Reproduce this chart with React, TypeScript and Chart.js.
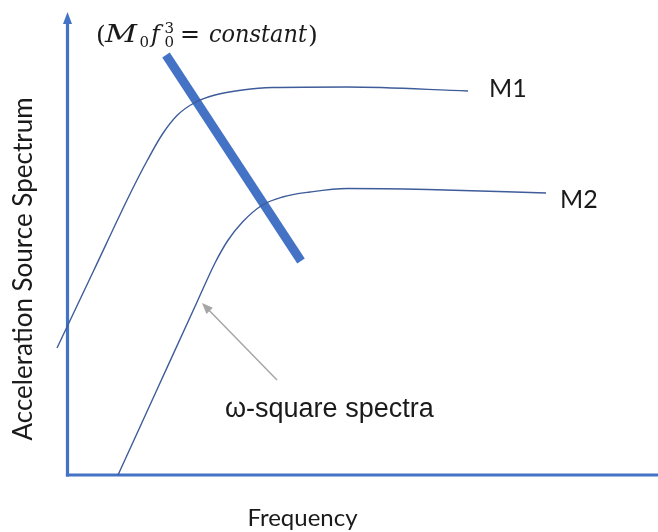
import React, { useEffect, useRef } from "react";
import { Chart, registerables } from "chart.js";

Chart.register(...registerables);

const WIDTH = 658;
const HEIGHT = 532;

// Schematic axis domain (log frequency vs. log acceleration amplitude, arbitrary units)
const X_MIN = -1.35;
const X_MAX = 11.81;
const Y_MIN = -1.14;
const Y_MAX = 9.5;
const Y_AXIS_TOP = 9.26;

// Source spectrum for the larger event (M1)
const m1Freq = [-0.21, 0.52, 1.25, 1.6, 1.9, 2.2, 2.55, 2.95, 3.5, 4.1, 5.6, 8.01];
const m1Amp = [2.54, 4.08, 5.62, 6.3, 6.82, 7.2, 7.45, 7.6, 7.7, 7.75, 7.76, 7.68];

// Source spectrum for the smaller event (M2)
const m2Freq = [1.01, 1.8, 2.6, 2.95, 3.2, 3.5, 3.9, 4.3, 4.85, 5.6, 7.2, 9.57];
const m2Amp = [0.0, 1.73, 3.48, 4.24, 4.68, 5.06, 5.4, 5.56, 5.66, 5.73, 5.71, 5.64];

// Corner-frequency trend line (M0 f0^3 = constant)
const cornerFreq = [1.97, 4.67];
const cornerAmp = [8.4, 4.28];

// Pointer from the annotation text to the M2 spectrum
const pointerFrom = { x: 4.19, y: 1.9 };
const pointerTo = { x: 2.69, y: 3.44 };

const AXIS_COLOR = "#4472C4";
const CURVE_COLOR = "#3E5C9A";
const SANS = "Lato, 'Open Sans', sans-serif";
const SERIF = "'DejaVu Serif', 'Liberation Serif', serif";

const toPoints = (xs: number[], ys: number[]) => xs.map((x, i) => ({ x, y: ys[i] }));

const decorations = {
  id: "decorations",
  beforeDatasetsDraw(chart: any) {
    const { ctx, scales } = chart;
    const xs = scales.x;
    const ys = scales.y;
    const x0 = xs.getPixelForValue(0);
    const y0 = ys.getPixelForValue(0);
    const yTop = ys.getPixelForValue(Y_AXIS_TOP);
    ctx.save();
    ctx.strokeStyle = AXIS_COLOR;
    ctx.fillStyle = AXIS_COLOR;
    ctx.lineWidth = 3.2;
    ctx.lineCap = "butt";
    // y axis
    ctx.beginPath();
    ctx.moveTo(x0, y0 + 1.6);
    ctx.lineTo(x0, yTop + 10);
    ctx.stroke();
    // arrow head
    ctx.beginPath();
    ctx.moveTo(x0, yTop);
    ctx.lineTo(x0 - 4.5, yTop + 12);
    ctx.lineTo(x0 + 4.5, yTop + 12);
    ctx.closePath();
    ctx.fill();
    // x axis
    ctx.beginPath();
    ctx.moveTo(x0 - 1.6, y0);
    ctx.lineTo(chart.width, y0);
    ctx.stroke();
    ctx.restore();
  },
  afterDraw(chart: any) {
    const { ctx, scales } = chart;
    const xs = scales.x;
    const ys = scales.y;
    ctx.save();

    // pointer arrow
    const ax = xs.getPixelForValue(pointerFrom.x);
    const ay = ys.getPixelForValue(pointerFrom.y);
    const bx = xs.getPixelForValue(pointerTo.x);
    const by = ys.getPixelForValue(pointerTo.y);
    const ang = Math.atan2(by - ay, bx - ax);
    ctx.strokeStyle = "#A6A6A6";
    ctx.fillStyle = "#A6A6A6";
    ctx.lineWidth = 1.5;
    ctx.beginPath();
    ctx.moveTo(ax, ay);
    ctx.lineTo(bx - Math.cos(ang) * 8, by - Math.sin(ang) * 8);
    ctx.stroke();
    ctx.beginPath();
    ctx.moveTo(bx, by);
    ctx.lineTo(bx - Math.cos(ang) * 11 + Math.sin(ang) * 4.5, by - Math.sin(ang) * 11 - Math.cos(ang) * 4.5);
    ctx.lineTo(bx - Math.cos(ang) * 11 - Math.sin(ang) * 4.5, by - Math.sin(ang) * 11 + Math.cos(ang) * 4.5);
    ctx.closePath();
    ctx.fill();

    // labels
    ctx.fillStyle = "#1a1a1a";
    ctx.textBaseline = "alphabetic";
    ctx.textAlign = "left";
    ctx.font = `25px ${SANS}`;
    ctx.fillText("M1", 489, 97);
    ctx.fillText("M2", 560, 208);

    ctx.font = "27px 'Liberation Sans', Arial, sans-serif";
    ctx.fillText("ω-square spectra", 225, 417);

    ctx.font = `24px ${SANS}`;
    ctx.textAlign = "center";
    ctx.fillText("Frequency", 302.5, 526);

    ctx.font = `26px ${SANS}`;
    ctx.save();
    ctx.translate(32, 269);
    ctx.rotate(-Math.PI / 2);
    ctx.fillText("Acceleration Source Spectrum", 0, 0);
    ctx.restore();

    // (M0 f0^3 = constant), each piece set at its own x and fitted to a width
    ctx.textAlign = "left";
    const piece = (t: string, font: string, x: number, baseline: number, width?: number) => {
      ctx.font = font;
      const w = ctx.measureText(t).width;
      ctx.save();
      ctx.translate(x, baseline);
      if (width) ctx.scale(width / w, 1);
      ctx.fillText(t, 0, 0);
      ctx.restore();
    };
    const big = 24;
    const small = 15;
    piece("(", `${big + 1}px ${SERIF}`, 96, 43);
    piece("M", `italic ${big}px ${SERIF}`, 105, 42, 32);
    piece("0", `${small}px ${SERIF}`, 139.5, 47);
    piece("f", `italic ${big}px ${SERIF}`, 151, 42);
    piece("3", `${small}px ${SERIF}`, 164.5, 33);
    piece("0", `${small}px ${SERIF}`, 164.5, 47);
    piece("=", `${big}px ${SERIF}`, 180, 42, 20);
    piece("constant", `italic ${big}px ${SERIF}`, 209, 42, 98);
    piece(")", `${big + 1}px ${SERIF}`, 308, 43);

    ctx.restore();
  },
};

export default function App() {
  const canvasRef = useRef<HTMLCanvasElement | null>(null);

  useEffect(() => {
    if (!canvasRef.current) return;
    const chart = new Chart(canvasRef.current, {
      type: "scatter",
      data: {
        datasets: [
          {
            label: "M1",
            data: toPoints(m1Freq, m1Amp),
            showLine: true,
            borderColor: CURVE_COLOR,
            borderWidth: 1.4,
            pointRadius: 0,
            cubicInterpolationMode: "monotone",
            clip: false,
          },
          {
            label: "M2",
            data: toPoints(m2Freq, m2Amp),
            showLine: true,
            borderColor: CURVE_COLOR,
            borderWidth: 1.4,
            pointRadius: 0,
            cubicInterpolationMode: "monotone",
            clip: false,
          },
          {
            label: "M0 f0^3 = constant",
            data: toPoints(cornerFreq, cornerAmp),
            showLine: true,
            borderColor: AXIS_COLOR,
            borderWidth: 9,
            borderCapStyle: "butt",
            pointRadius: 0,
            clip: false,
          },
        ],
      } as any,
      options: {
        responsive: false,
        animation: false,
        layout: { padding: 0 },
        plugins: { legend: { display: false }, tooltip: { enabled: false } },
        scales: {
          x: { type: "linear", display: false, min: X_MIN, max: X_MAX },
          y: { type: "linear", display: false, min: Y_MIN, max: Y_MAX },
        },
      } as any,
      plugins: [decorations],
    });
    return () => chart.destroy();
  }, []);

  return (
    <div style={{ position: "fixed", left: 0, top: 0, width: WIDTH, height: HEIGHT, background: "#fff" }}>
      <canvas ref={canvasRef} width={WIDTH} height={HEIGHT} />
    </div>
  );
}
